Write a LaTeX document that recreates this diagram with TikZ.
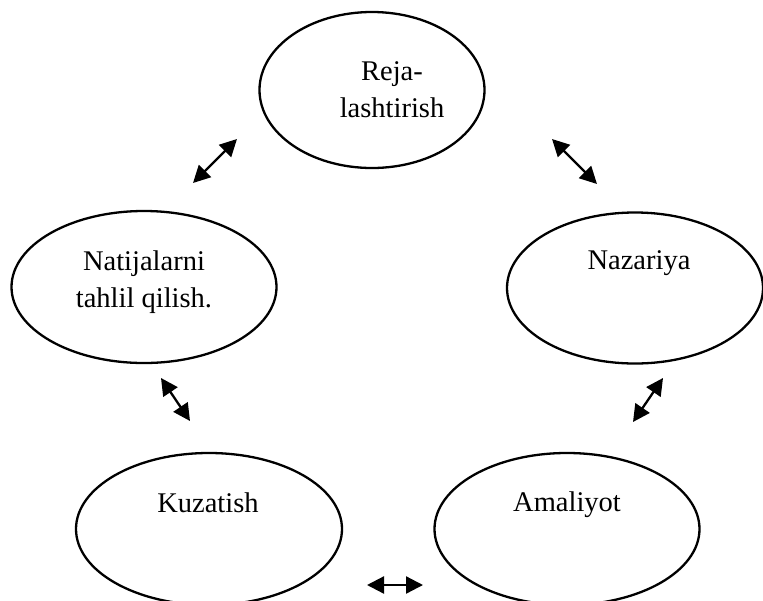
\documentclass[tikz,border=0pt]{standalone}
\usepackage{fontspec}
\setmainfont{Liberation Serif}
\usepackage{tikz}
\usetikzlibrary{arrows.meta,shapes.geometric}

\begin{document}
\begin{tikzpicture}[
  x=1pt, y=-1pt,
  oval/.style={draw, ellipse, line width=2.3pt, inner sep=0pt},
  txt/.style={align=center, font=\fontsize{28.5}{37}\selectfont},
  arrow/.style={{Triangle[length=17pt,width=17pt]}-{Triangle[length=17pt,width=17pt]}, line width=2.3pt}
]
\useasboundingbox (0,0) rectangle (763,600);

\node[oval, minimum width=225pt, minimum height=156pt] (reja) at (372,90) {};
\node[oval, minimum width=265pt, minimum height=152pt] (natija) at (144,287) {};
\node[oval, minimum width=256pt, minimum height=151pt] (nazar) at (635,288) {};
\node[oval, minimum width=266pt, minimum height=152pt] (kuzat) at (209,529) {};
\node[oval, minimum width=265pt, minimum height=152pt] (amal) at (567,529) {};

\node[txt] (rejaT) at (392,90) {Reja-\\lashtirish};
\node[txt] (natijaT) at (144,282) {Natijalarni\\tahlil qilish.};
\node[txt] (nazarT) at (639,263) {Nazariya};
\node[txt] (kuzatT) at (208,503) {Kuzatish};
\node[txt] (amalT) at (567,505) {Amaliyot};

\coordinate (a1) at (193,183); \coordinate (b1) at (237,139);
\coordinate (a2) at (552,139); \coordinate (b2) at (597,184);
\coordinate (a3) at (161,378); \coordinate (b3) at (190,421);
\coordinate (a4) at (663,378); \coordinate (b4) at (633,422);
\coordinate (a5) at (367,585); \coordinate (b5) at (423,585);

\draw[arrow] (a1) -- (b1);
\draw[arrow] (a2) -- (b2);
\draw[arrow] (a3) -- (b3);
\draw[arrow] (a4) -- (b4);
\draw[arrow] (a5) -- (b5);
\end{tikzpicture}
\end{document}
